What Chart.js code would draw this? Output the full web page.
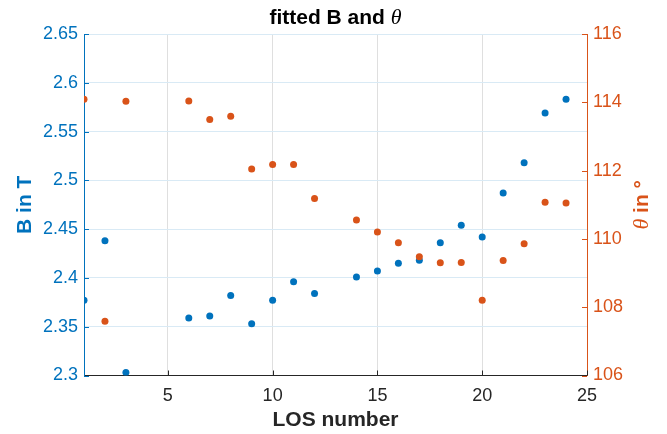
<!DOCTYPE html>
<html>
<head>
<meta charset="utf-8">
<script src="https://cdn.jsdelivr.net/npm/chart.js@4.4.1/dist/chart.umd.min.js"></script>
<style>
  html, body { margin: 0; padding: 0; background: #fff; }
  #wrap { width: 667px; height: 434px; }
</style>
</head>
<body>
<div id="wrap"><canvas id="chart"></canvas></div>
<script>
// LOS numbers with a fit result
const losNumbers = [1, 2, 3, 6, 7, 8, 9, 10, 11, 12, 14, 15, 16, 17, 18, 19, 20, 21, 22, 23, 24];
// fitted field B in T (left axis)
const fieldB = [2.377, 2.438, 2.303, 2.359, 2.361, 2.382, 2.353, 2.377, 2.396, 2.384,
  2.401, 2.407, 2.415, 2.418, 2.436, 2.454, 2.442, 2.487, 2.518, 2.569, 2.583];
// fitted angle theta in degrees (right axis)
const angleTheta = [114.09, 107.59, 114.03, 114.04, 113.50, 113.59, 112.05, 112.18, 112.18, 111.18,
  110.55, 110.20, 109.89, 109.48, 109.30, 109.31, 108.20, 109.37, 109.86, 111.07, 111.05];

const xTicks = [5, 10, 15, 20, 25];
const bTicks = [2.3, 2.35, 2.4, 2.45, 2.5, 2.55, 2.6, 2.65];
const thetaTicks = [106, 108, 110, 112, 114, 116];

const BLUE = '#0072BD';
const ORANGE = '#D95319';
const DARK = '#262626';
const SANS = '"Liberation Sans", Arial, Helvetica, sans-serif';
const SERIF = '"Liberation Serif", "Times New Roman", serif';

function drawRuns(ctx, runs, cx, cy, rot) {
  let total = 0;
  runs.forEach(r => { ctx.font = r.font; r.w = ctx.measureText(r.text).width; total += r.w; });
  ctx.save();
  ctx.translate(cx, cy);
  ctx.rotate(rot);
  ctx.textAlign = 'left';
  ctx.textBaseline = 'middle';
  let x = -total / 2;
  runs.forEach(r => {
    ctx.font = r.font;
    ctx.fillStyle = r.color;
    ctx.fillText(r.text, x, 0);
    x += r.w;
  });
  ctx.restore();
}

// inward tick marks + mixed-style labels (title, right axis)
const extras = {
  id: 'extras',
  afterDraw(chart) {
    const { ctx, chartArea: a, scales } = chart;
    const len = 5;
    ctx.save();
    ctx.lineWidth = 1;
    ctx.strokeStyle = DARK;
    ctx.beginPath();
    xTicks.forEach(v => {
      const px = Math.round(scales.x.getPixelForValue(v)) + 0.5;
      ctx.moveTo(px, a.bottom);
      ctx.lineTo(px, a.bottom - len);
    });
    ctx.stroke();
    ctx.strokeStyle = BLUE;
    ctx.beginPath();
    bTicks.forEach(v => {
      const py = Math.round(scales.yB.getPixelForValue(v)) + 0.5;
      ctx.moveTo(a.left, py);
      ctx.lineTo(a.left + len, py);
    });
    ctx.stroke();
    ctx.strokeStyle = ORANGE;
    ctx.beginPath();
    thetaTicks.forEach(v => {
      const py = Math.round(scales.yT.getPixelForValue(v)) + 0.5;
      ctx.moveTo(a.right, py);
      ctx.lineTo(a.right - len, py);
    });
    ctx.stroke();
    ctx.restore();

    drawRuns(ctx, [
      { text: 'fitted B and ', font: 'bold 21px ' + SANS, color: '#000' },
      { text: 'θ', font: 'italic 22px ' + SERIF, color: '#000' }
    ], (a.left + a.right) / 2, 18, 0);

    drawRuns(ctx, [
      { text: 'θ', font: 'italic 22px ' + SERIF, color: ORANGE },
      { text: ' in °', font: 'bold 21px ' + SANS, color: ORANGE }
    ], 642, (a.top + a.bottom) / 2, -Math.PI / 2);
  }
};

new Chart(document.getElementById('chart'), {
  type: 'scatter',
  data: {
    datasets: [
      {
        label: 'theta',
        data: losNumbers.map((n, i) => ({ x: n, y: angleTheta[i] })),
        yAxisID: 'yT',
        backgroundColor: ORANGE,
        borderColor: ORANGE,
        pointRadius: 3.5,
        borderWidth: 0,
        order: 0
      },
      {
        label: 'B',
        data: losNumbers.map((n, i) => ({ x: n, y: fieldB[i] })),
        yAxisID: 'yB',
        backgroundColor: BLUE,
        borderColor: BLUE,
        pointRadius: 3.5,
        borderWidth: 0,
        order: 1
      }
    ]
  },
  options: {
    responsive: true,
    maintainAspectRatio: false,
    animation: false,
    layout: { padding: { top: 34, left: 0, right: 0, bottom: 0 } },
    plugins: {
      legend: { display: false },
      tooltip: { enabled: false },
      title: { display: false }
    },
    scales: {
      x: {
        type: 'linear',
        min: 1,
        max: 25,
        afterBuildTicks: s => { s.ticks = xTicks.map(v => ({ value: v })); },
        afterFit: s => { s.height = 58.5; },
        grid: { color: '#dfdfdf', drawTicks: false },
        border: { color: DARK, width: 1 },
        ticks: { color: DARK, padding: 10, font: { family: SANS, size: 18 } },
        title: {
          display: true,
          text: 'LOS number',
          color: DARK,
          font: { family: SANS, size: 21, weight: 'bold' },
          padding: { top: 0, bottom: 1 }
        }
      },
      yB: {
        type: 'linear',
        position: 'left',
        min: 2.3,
        max: 2.65,
        afterBuildTicks: s => { s.ticks = bTicks.map(v => ({ value: v })); },
        afterFit: s => { s.width = 84; },
        grid: {
          color: c => (c.tick && c.tick.value === 2.3 ? 'rgba(0,0,0,0)' : '#d9eaf5'),
          drawTicks: false
        },
        border: { color: BLUE, width: 1 },
        ticks: {
          color: BLUE,
          padding: 6,
          font: { family: SANS, size: 18 },
          callback: v => String(+v.toFixed(2))
        },
        title: {
          display: true,
          text: 'B in T',
          color: BLUE,
          font: { family: SANS, size: 21, weight: 'bold' },
          padding: { top: 13, bottom: 0 }
        }
      },
      yT: {
        type: 'linear',
        position: 'right',
        min: 106,
        max: 116,
        afterBuildTicks: s => { s.ticks = thetaTicks.map(v => ({ value: v })); },
        afterFit: s => { s.width = 80; },
        grid: { display: false, drawTicks: false },
        border: { color: ORANGE, width: 1 },
        ticks: { color: ORANGE, padding: 6, font: { family: SANS, size: 18 } },
        title: { display: false }
      }
    }
  },
  plugins: [extras]
});
</script>
</body>
</html>
